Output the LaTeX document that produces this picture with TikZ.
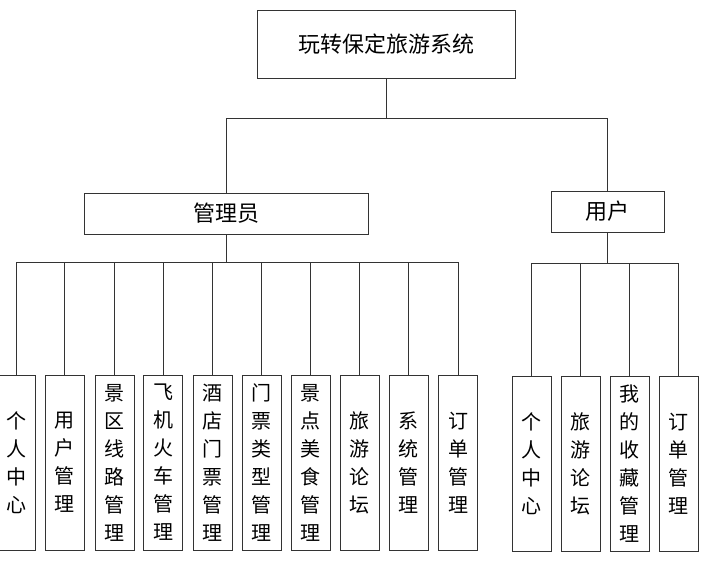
\documentclass[tikz,border=0pt]{standalone}
\usepackage{fontspec}
\newfontfamily\cjk{Noto Sans CJK SC}
\usetikzlibrary{arrows,shapes}
\tikzstyle{box}=[draw=black!80,line width=0.8pt,fill=white,font=\cjk\fontsize{22}{26}\selectfont,inner sep=0pt]
\tikzstyle{leaf}=[box,minimum width=39pt,minimum height=175pt,align=center,font=\cjk\fontsize{20}{28}\selectfont]
\tikzstyle{edge}=[draw,black!80,line width=0.8pt,-]

\begin{document}
\begin{tikzpicture}[x=1pt,y=-1pt]
    \useasboundingbox (0,0) rectangle (704,560);
    % Draw the top of the tree
    \node[box,minimum width=258pt,minimum height=68pt] (root) at (386,44) {玩转保定旅游系统};
    \node[box,minimum width=284pt,minimum height=41pt] (admin) at (226,213.5) {管理员};
    \node[box,minimum width=113pt,minimum height=41pt] (user) at (607.5,211.5) {用户};

    % Then the leaves under the two roles
    \foreach \pos/\name/\txt in {{(16,462.5)/a1/{个\\人\\中\\心}}, {(64.5,462.5)/a2/{用\\户\\管\\理}},
        {(114.5,462.5)/a3/{景\\区\\线\\路\\管\\理}}, {(163,462.5)/a4/{飞\\机\\火\\车\\管\\理}},
        {(212.5,462.5)/a5/{酒\\店\\门\\票\\管\\理}}, {(261.5,462.5)/a6/{门\\票\\类\\型\\管\\理}},
        {(310.5,462.5)/a7/{景\\点\\美\\食\\管\\理}}, {(359.5,462.5)/a8/{旅\\游\\论\\坛}},
        {(408.5,462.5)/a9/{系\\统\\管\\理}}, {(458,462.5)/a10/{订\\单\\管\\理}}}
        \node[leaf] (\name) at \pos {\txt};

    \foreach \pos/\name/\txt in {{(531.5,464)/u1/{个\\人\\中\\心}}, {(580.5,464)/u2/{旅\\游\\论\\坛}},
        {(629.5,464)/u3/{我\\的\\收\\藏\\管\\理}}, {(678.5,464)/u4/{订\\单\\管\\理}}}
        \node[leaf] (\name) at \pos {\txt};

    % Connect the boxes with elbow lines
    \foreach \source/\dest in {root/admin, root/user}
        \path[edge] (\source.south) -- ++(0,40) -| (\dest.north);
    \foreach \dest in {a1,a2,a3,a4,a5,a6,a7,a8,a9,a10}
        \path[edge] (admin.south) -- ++(0,28) -| (\dest.north);
    \foreach \dest in {u1,u2,u3,u4}
        \path[edge] (user.south) -- ++(0,31) -| (\dest.north);
\end{tikzpicture}
\end{document}
